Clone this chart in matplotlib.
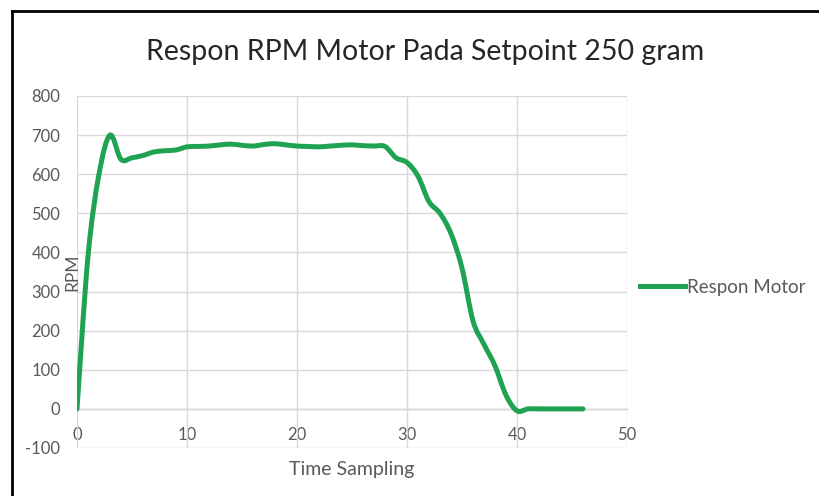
import matplotlib
matplotlib.use("Agg")
import matplotlib.pyplot as plt
from matplotlib.path import Path
from matplotlib.patches import PathPatch
from matplotlib.lines import Line2D
import numpy as np

plt.rcParams['font.family'] = ['Lato', 'DejaVu Sans']
plt.rcParams['axes.unicode_minus'] = False

title = "Respon RPM Motor Pada Setpoint 250 gram"
series_name = "Respon Motor"
x_label = "Time Sampling"
y_label = "RPM"
time = list(range(0, 47))
rpm = [0, 390, 600, 700, 638, 642, 648, 657, 660, 662,
       670, 671, 672, 675, 677, 674, 672, 676, 678, 675,
       672, 671, 670, 672, 674, 675, 673, 672, 671, 642,
       630, 595, 530, 500, 448, 360, 225, 165, 110, 35,
       -5, 0, 0, 0, 0, 0, 0]
x_ticks = [0, 10, 20, 30, 40, 50]
y_ticks = [-100, 0, 100, 200, 300, 400, 500, 600, 700, 800]

green = "#1fa352"
gray_text = "#595959"
grid_c = "#d9d9d9"

fig = plt.figure(figsize=(8.19, 4.96), dpi=100)
ax = fig.add_axes([77/819, 1-448/496, 550/819, 352/496])
ax.set_xlim(0, 50)
ax.set_ylim(-100, 800)
ax.set_xticks(x_ticks)
ax.set_yticks(y_ticks)
ax.grid(True, color=grid_c, linewidth=1.0)
ax.set_axisbelow(True)
for s in ax.spines.values():
    s.set_visible(False)
ax.tick_params(axis='x', length=0, labelbottom=False)
ax.tick_params(axis='y', length=0, pad=12, labelsize=12, labelcolor=gray_text)

# secondary x axis crossing at y=0
sec = ax.secondary_xaxis(100/900)
sec.set_xticks(x_ticks)
sec.tick_params(length=0, pad=13, labelsize=12, labelcolor=gray_text)
sec.spines['bottom'].set_color("#bfbfbf")
sec.spines['bottom'].set_linewidth(1.0)

# smooth (Excel-style) line through data points
xs = np.array(time, dtype=float)
ys = np.array(rpm, dtype=float)
pts = np.column_stack([xs, ys])
verts = [pts[0]]
codes = [Path.MOVETO]
n = len(pts)
for i in range(n - 1):
    p0 = pts[i - 1] if i > 0 else pts[i]
    p1 = pts[i]
    p2 = pts[i + 1]
    p3 = pts[i + 2] if i + 2 < n else pts[i + 1]
    c1 = p1 + (p2 - p0) / 6.0
    c2 = p2 - (p3 - p1) / 6.0
    verts += [c1, c2, p2]
    codes += [Path.CURVE4] * 3
patch = PathPatch(Path(verts, codes), facecolor='none', edgecolor=green,
                  linewidth=3.6, capstyle='round', joinstyle='round', zorder=3)
ax.add_patch(patch)

ax.set_xlabel(x_label, fontsize=14, color=gray_text)
ax.xaxis.set_label_coords(0.5, -(469-448)/352)
ax.xaxis.label.set_va('center')
ax.set_ylabel(y_label, fontsize=12.5, color=gray_text)
ax.yaxis.set_label_coords(-(77-72)/550, 0.5)
ax.yaxis.label.set_va('center')

fig.text(425/819, 1-52/496, title, ha='center', va='center', fontsize=20.5, color="#262626")

handle = Line2D([], [], color=green, linewidth=3.6)
fig.legend([handle], [series_name], loc='center left',
           bbox_to_anchor=(640/819, 1-287/496), frameon=False,
           fontsize=13.5, labelcolor=gray_text, handlelength=2.4, handletextpad=0.1,
           borderaxespad=0, borderpad=0)

# outer frame (top and left)
fig.add_artist(Line2D([12/819, 12/819], [0, 1-11/496], transform=fig.transFigure, color='black', linewidth=2))
fig.add_artist(Line2D([12/819, 1], [1-11/496, 1-11/496], transform=fig.transFigure, color='black', linewidth=2))

fig.savefig("out.png", dpi=100)
